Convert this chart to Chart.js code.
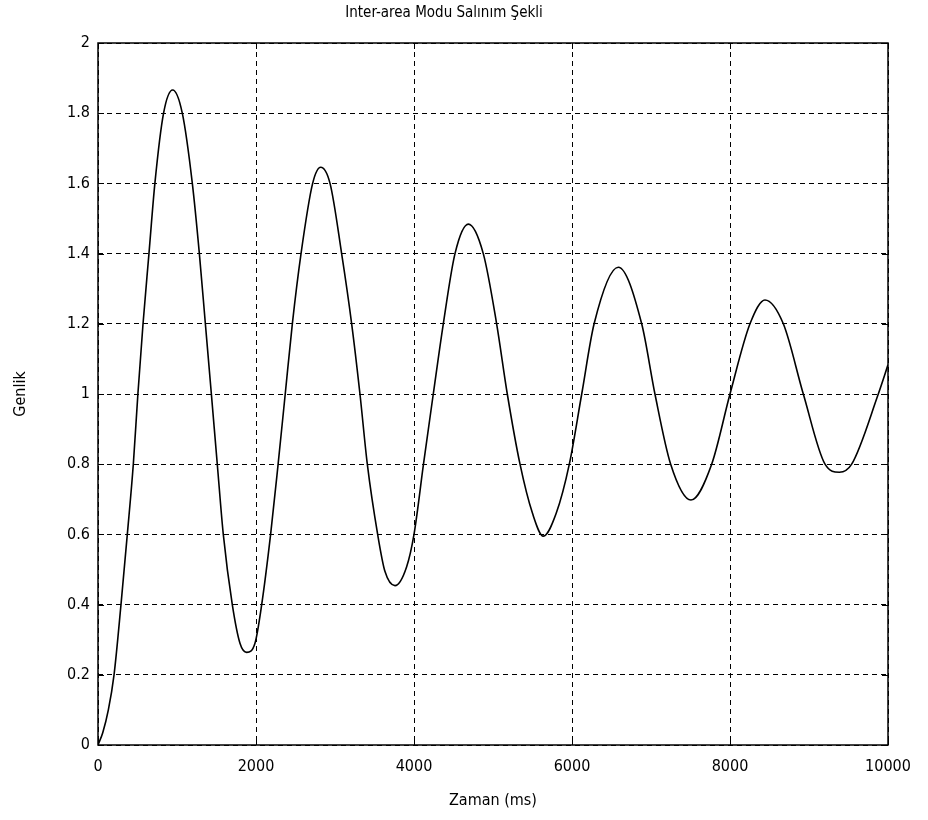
<!DOCTYPE html>
<html lang="tr">
<head>
    <meta charset="UTF-8" />
    <title>Inter-area Modu Salınım Şekli</title>
    <style>
        body { margin: 0; padding: 0; background: #fff; }
        #wrap { width: 928px; height: 820px; }
    </style>
    <script src="https://cdn.jsdelivr.net/npm/chart.js"></script>
</head>
<body>
    <div id="wrap"><canvas id="modeChart" width="928" height="820"></canvas></div>
    <script>
        // values (time in ms, amplitude)
        const timeMs = [0, 60, 131, 203, 291, 371, 447, 505, 570, 645, 720, 830, 945, 1067, 1194, 1283, 1359, 1435,
            1510, 1586, 1700, 1797, 1882, 1987, 2072, 2185, 2280, 2370, 2460, 2570, 2717, 2819, 2937, 3084, 3211,
            3316, 3409, 3540, 3633, 3759, 3907, 4000, 4120, 4244, 4371, 4519, 4688, 4877, 5046, 5181, 5342, 5500,
            5637, 5800, 5966, 6123, 6280, 6586, 6882, 7050, 7249, 7506, 7768, 8000, 8253, 8443, 8675, 8928,
            9203, 9384, 9540, 9877, 10000];
        const amplitude = [0, 0.035, 0.1, 0.2, 0.4, 0.6, 0.8, 1.0, 1.2, 1.4, 1.6, 1.8, 1.866, 1.8, 1.6, 1.4, 1.2, 1.0,
            0.8, 0.6, 0.4, 0.29, 0.264, 0.29, 0.4, 0.6, 0.8, 1.0, 1.2, 1.4, 1.6, 1.646, 1.6, 1.4, 1.2,
            1.0, 0.8, 0.6, 0.494, 0.454, 0.508, 0.6, 0.8, 1.0, 1.2, 1.4, 1.484, 1.4, 1.2, 1.0, 0.8, 0.66,
            0.595, 0.66, 0.8, 1.0, 1.2, 1.361, 1.2, 1.0, 0.8, 0.698, 0.8, 1.0, 1.2, 1.268, 1.2, 1.0,
            0.8, 0.777, 0.8, 1.0, 1.083];
        const xTicks = [0, 2000, 4000, 6000, 8000, 10000];
        const yTicks = [0, 0.2, 0.4, 0.6, 0.8, 1, 1.2, 1.4, 1.6, 1.8, 2];

        Chart.defaults.font.family = "'DejaVu Sans Condensed', 'Liberation Sans', sans-serif";
        Chart.defaults.color = '#000';

        const points = timeMs.map((t, i) => ({ x: t, y: amplitude[i] }));

        // box round the plot plus small inward ticks, matlab style
        const frame = {
            id: 'frame',
            afterDraw(chart) {
                const { ctx, chartArea: a, scales } = chart;
                ctx.save();
                ctx.strokeStyle = '#000';
                ctx.lineWidth = 1;
                ctx.setLineDash([]);
                ctx.beginPath();
                xTicks.forEach(v => {
                    const px = Math.round(scales.x.getPixelForValue(v)) + 0.5;
                    ctx.moveTo(px, a.bottom); ctx.lineTo(px, a.bottom - 6);
                    ctx.moveTo(px, a.top); ctx.lineTo(px, a.top + 6);
                });
                yTicks.forEach(v => {
                    const py = Math.round(scales.y.getPixelForValue(v)) + 0.5;
                    ctx.moveTo(a.left, py); ctx.lineTo(a.left + 6, py);
                    ctx.moveTo(a.right, py); ctx.lineTo(a.right - 6, py);
                });
                ctx.stroke();
                ctx.lineWidth = 1.5;
                ctx.strokeRect(a.left, a.top, a.right - a.left, a.bottom - a.top);
                ctx.restore();
            }
        };

        new Chart(document.getElementById('modeChart'), {
            type: 'scatter',
            data: {
                datasets: [{
                    label: 'Genlik',
                    data: points,
                    showLine: true,
                    borderColor: '#000',
                    borderWidth: 1.6,
                    pointRadius: 0,
                    cubicInterpolationMode: 'monotone'
                }]
            },
            options: {
                responsive: false,
                animation: false,
                layout: { padding: { left: 0, right: 40, top: 0, bottom: 0 } },
                plugins: {
                    legend: { display: false },
                    tooltip: { enabled: false },
                    title: {
                        display: true,
                        text: 'Inter-area Modu Salınım Şekli',
                        color: '#000',
                        font: { size: 15, weight: 'normal' },
                        padding: { top: 4, bottom: 21 }
                    }
                },
                scales: {
                    x: {
                        type: 'linear',
                        min: 0,
                        max: 10000,
                        afterBuildTicks: s => { s.ticks = xTicks.map(v => ({ value: v })); },
                        afterFit: s => { s.height = 75; },
                        ticks: {
                            font: { size: 16 },
                            padding: 12,
                            maxRotation: 0,
                            callback: v => String(v)
                        },
                        grid: { color: '#000', lineWidth: 1, drawTicks: false },
                        border: { display: false, dash: [5, 4] },
                        title: {
                            display: true,
                            text: 'Zaman (ms)',
                            font: { size: 16 },
                            padding: { top: 0, bottom: 10 }
                        }
                    },
                    y: {
                        type: 'linear',
                        min: 0,
                        max: 2,
                        afterBuildTicks: s => { s.ticks = yTicks.map(v => ({ value: v })); },
                        afterFit: s => { s.width = 98; },
                        ticks: {
                            font: { size: 16 },
                            padding: 8,
                            callback: v => String(v)
                        },
                        grid: { color: '#000', lineWidth: 1, drawTicks: false },
                        border: { display: false, dash: [5, 4] },
                        title: {
                            display: true,
                            text: 'Genlik',
                            font: { size: 16 },
                            padding: { top: 11, bottom: 0 }
                        }
                    }
                }
            },
            plugins: [frame]
        });
    </script>
</body>
</html>
